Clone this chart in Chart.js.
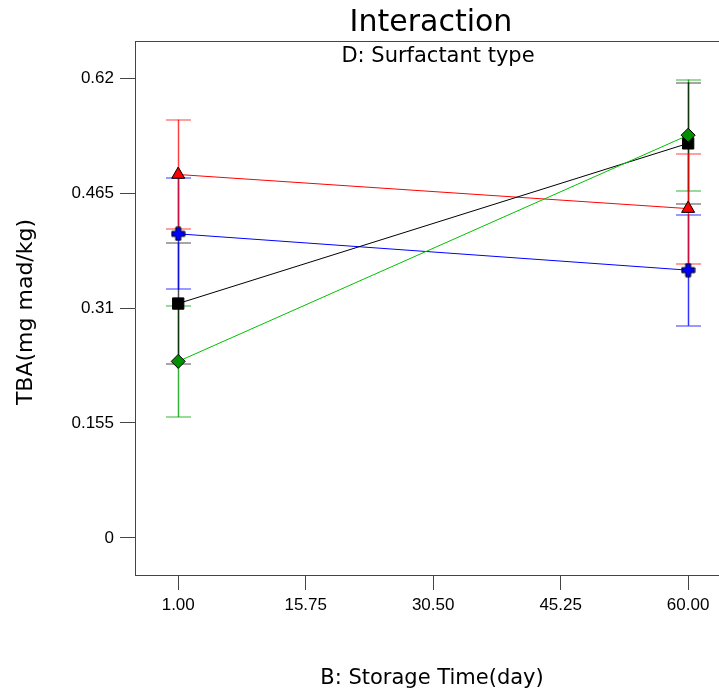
<!DOCTYPE html>
<html>
<head>
<meta charset="utf-8">
<script src="https://cdn.jsdelivr.net/npm/chart.js@4"></script>
<style>
  html, body { margin: 0; padding: 0; background: #fff; overflow: hidden; }
  #wrap { width: 719px; height: 690px; overflow: hidden; position: relative; }
  #chart { position: absolute; left: 0; top: 0; }
</style>
</head>
<body>
<div id="wrap"><canvas id="chart" width="760" height="690"></canvas></div>
<script>
// ---------- data ----------
const storageDays = [1, 60];
const xTicks = [1, 15.75, 30.5, 45.25, 60];
const xTickLabels = ["1.00", "15.75", "30.50", "45.25", "60.00"];
const yTicks = [0, 0.155, 0.31, 0.465, 0.62];
const yTickLabels = ["0", "0.155", "0.31", "0.465", "0.62"];

// TBA means and error half widths per surfactant type
const redMean = [0.490, 0.444];
const redErr = [0.074, 0.074];
const blueMean = [0.410, 0.361];
const blueErr = [0.075, 0.075];
const blackMean = [0.316, 0.532];
const blackErr = [0.082, 0.082];
const greenMean = [0.238, 0.543];
const greenErr = [0.075, 0.075];

// thick plus marker with black outline
function plusMarker(fill) {
  const c = document.createElement('canvas');
  c.width = 15; c.height = 15;
  const g = c.getContext('2d');
  const a = 5, b = 10;
  g.beginPath();
  g.moveTo(a, 1); g.lineTo(b, 1); g.lineTo(b, a); g.lineTo(14, a); g.lineTo(14, b);
  g.lineTo(b, b); g.lineTo(b, 14); g.lineTo(a, 14); g.lineTo(a, b); g.lineTo(1, b);
  g.lineTo(1, a); g.lineTo(a, a); g.closePath();
  g.fillStyle = fill; g.fill();
  g.strokeStyle = '#000'; g.lineWidth = 1; g.stroke();
  return c;
}

function series(label, mean, err, line, fill, style, radius, errColor) {
  return {
    label,
    data: storageDays.map((x, i) => ({ x, y: mean[i] })),
    err,
    errColor,
    showLine: true,
    borderColor: line,
    borderWidth: 1,
    pointStyle: style,
    pointRadius: radius,
    pointBackgroundColor: fill,
    pointBorderColor: '#000',
    pointBorderWidth: 1
  };
}

const datasets = [
  series('D1', greenMean, greenErr, '#00c000', '#009000', 'rectRot', 7, 'rgba(0,160,0,0.8)'),
  series('D2', blackMean, blackErr, '#000000', '#000000', 'rect', 8, 'rgba(0,0,0,0.7)'),
  series('D3', blueMean, blueErr, '#0000ff', '#0000ff', plusMarker('#0000ff'), 7, 'rgba(0,0,255,0.8)'),
  series('D4', redMean, redErr, '#ff0000', '#ff0000', 'triangle', 7.5, 'rgba(255,0,0,0.75)')
];

// ---------- plugins ----------
const errorBars = {
  id: 'errorBars',
  beforeDatasetsDraw(chart) {
    const ctx = chart.ctx, xs = chart.scales.x, ys = chart.scales.y;
    ctx.save();
    chart.data.datasets.forEach(ds => {
      ctx.strokeStyle = ds.errColor;
      ds.data.forEach((p, i) => {
        const x = Math.round(xs.getPixelForValue(p.x)) + 0.5;
        const top = ys.getPixelForValue(p.y + ds.err[i]);
        const bot = ys.getPixelForValue(p.y - ds.err[i]);
        ctx.lineWidth = 1.5;
        ctx.beginPath();
        ctx.moveTo(x, top); ctx.lineTo(x, bot);
        ctx.stroke();
        ctx.lineWidth = 1;
        ctx.beginPath();
        ctx.moveTo(x - 12.5, Math.round(top)); ctx.lineTo(x + 12.5, Math.round(top));
        ctx.moveTo(x - 12.5, Math.round(bot)); ctx.lineTo(x + 12.5, Math.round(bot));
        ctx.stroke();
      });
    });
    ctx.restore();
  }
};

const titles = {
  id: 'titles',
  afterDraw(chart) {
    const ctx = chart.ctx, a = chart.chartArea;
    ctx.save();
    // keep the page's right edge open inside the frame
    ctx.fillStyle = '#fff';
    ctx.fillRect(716, Math.round(a.top) + 1, 10, Math.round(a.bottom) - Math.round(a.top) - 2);
    // top edge of the frame, running out to the page edge
    ctx.fillStyle = '#444';
    ctx.fillRect(a.left, Math.round(a.top), a.right - a.left, 1);

    ctx.fillStyle = '#000';
    ctx.textAlign = 'center';
    ctx.textBaseline = 'alphabetic';
    ctx.font = '30px "DejaVu Sans"';
    ctx.fillText('Interaction', 431, 31);
    ctx.font = '21px "DejaVu Sans"';
    ctx.fillText('D: Surfactant type', 438, 62);
    ctx.fillText('B: Storage Time(day)', 432, 684);

    ctx.translate(32, 312);
    ctx.rotate(-Math.PI / 2);
    ctx.font = '22px "DejaVu Sans"';
    ctx.fillText('TBA(mg mad/kg)', 0, 0);
    ctx.restore();
  }
};

// ---------- chart ----------
const tickFont = { family: '"Liberation Sans", Arial', size: 17 };

new Chart(document.getElementById('chart').getContext('2d'), {
  type: 'scatter',
  data: { datasets },
  options: {
    responsive: false,
    animation: false,
    layout: { padding: { top: 41, right: 20, left: 0, bottom: 0 } },
    plugins: { legend: { display: false }, tooltip: { enabled: false } },
    scales: {
      x: {
        type: 'linear',
        min: -4,
        max: 66,
        afterBuildTicks: s => { s.ticks = xTicks.map(v => ({ value: v })); },
        afterFit: s => { s.height = 115; },
        ticks: {
          autoSkip: false, maxRotation: 0, padding: 5,
          color: '#000', font: tickFont,
          callback: (v, i) => xTickLabels[i]
        },
        grid: { drawOnChartArea: false, tickLength: 15, tickColor: '#444', color: '#444' },
        border: { color: '#444', width: 1 }
      },
      y: {
        type: 'linear',
        min: -0.05,
        max: 0.67,
        afterBuildTicks: s => { s.ticks = yTicks.map(v => ({ value: v })); },
        afterFit: s => { s.width = 135; },
        ticks: {
          autoSkip: false, padding: 6,
          color: '#000', font: tickFont,
          callback: (v, i) => yTickLabels[i]
        },
        grid: { drawOnChartArea: false, tickLength: 15, tickColor: '#444', color: '#444' },
        border: { color: '#444', width: 1 }
      }
    }
  },
  plugins: [errorBars, titles]
});
</script>
</body>
</html>
